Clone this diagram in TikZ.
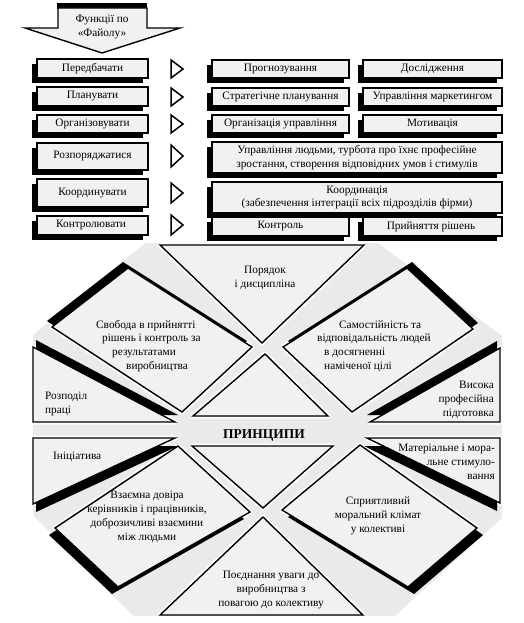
\documentclass[tikz,border=0pt]{standalone}
\usepackage{fontspec}
\setmainfont{Liberation Serif}
\definecolor{panelgray}{RGB}{241,241,241}
\definecolor{octgray}{RGB}{234,234,234}
\usepackage{tikz}

\begin{document}
\begin{tikzpicture}[x=1pt,y=-1pt,
  txt/.style={font=\fontsize{11.3}{13.8}\selectfont, inner sep=0pt, align=center},
  panel/.style={fill=panelgray, draw=black, line width=1.4pt},
  playtri/.style={fill=white, draw=black, line width=1.5pt, line join=miter},
  piece/.style={fill=panelgray, draw=black, line width=1.4pt, line join=miter},
  halo/.style={draw=white, line width=5pt, line join=round}]

\useasboundingbox (0,0) rectangle (524,623);

% --- Arrow: functions ---
\fill[black] (57,3) rectangle (147,9);
\draw[panel] (58,8) -- (147,8) -- (147,28) -- (180,28) -- (102,53) -- (25,28) -- (58,28) -- cycle;
\node[txt] (title) at (102,27) {Функції по\\«Файолу»};

% --- Functions, left column ---
\foreach \n/\yt/\yb/\lbl in {
  1/59/78/Передбачати,
  2/87/106/Планувати,
  3/115/133/Організовувати,
  4/143/170/Розпоряджатися,
  5/179/207/Координувати,
  6/216/235/Контролювати
}{
  \fill[black] (32,\yt+5) rectangle (143,\yb+5);
  \draw[panel] (37,\yt) rectangle (148,\yb);
  \node[txt] (fn\n) at (92.5,{(\yt+\yb)/2}) {\lbl};
}

% --- Play marks ---
\foreach \y/\h in {69/9, 97/9, 124/9, 156/11, 193/10, 225/10}
  \draw[playtri] (171,\y-\h) -- (183,\y) -- (171,\y+\h) -- cycle;

% --- Tasks, right columns ---
\foreach \n/\xl/\xr/\yt/\yb/\lbl in {
  a1/212/349/60/78/Прогнозування,
  b1/363/502/60/78/Дослідження,
  a2/212/349/88/106/Стратегічне планування,
  b2/363/502/88/106/Управління маркетингом,
  a3/212/349/115/133/Організація управління,
  b3/363/502/115/133/Мотивація,
  c4/212/502/142/173/{Управління людьми, турбота про їхнє професійне\\зростання, створення відповідних умов і стимулів},
  c5/212/502/182/213/{Координація\\(забезпечення інтеграції всіх підрозділів фірми)},
  a6/212/349/217/236/Контроль,
  b6/363/502/217/236/Прийняття рішень
}{
  \fill[black] (\xl-5,\yt+5) rectangle (\xr-5,\yb+5);
  \draw[panel] (\xl,\yt) rectangle (\xr,\yb);
  \node[txt] (task\n) at ({(\xl+\xr)/2},{(\yt+\yb)/2}) {\lbl};
}

% --- Principles: background ---
\fill[octgray] (145,243) -- (378,243) -- (502,336) -- (502,518) -- (395,616) -- (133,616) -- (33,515) -- (33,335) -- cycle;

% pieces: white gap first, then shadow and outline
\foreach \p in {
  {(160,245) -- (364,245) -- (262,343)},
  {(128,268) -- (52,327) -- (182,412) -- (252,347)},
  {(407,268) -- (473,329) -- (352,412) -- (283,347)},
  {(265,354) -- (328,416) -- (193,416)},
  {(33,347) -- (175,422) -- (33,422)},
  {(500,348) -- (500,422) -- (370,422)},
  {(33,438) -- (175,438) -- (33,504)},
  {(367,438) -- (500,438) -- (500,503)},
  {(192,446) -- (333,446) -- (263,508)},
  {(178,446) -- (250,512) -- (118,587) -- (55,528)},
  {(360,445) -- (477,528) -- (408,587) -- (282,510)},
  {(263,517) -- (363,615) -- (160,615)}
}{
  \draw[halo] \p -- cycle;
}
\foreach \sx/\sy/\p in {
  0/0/{(160,245) -- (364,245) -- (262,343)},
  -5/-6/{(128,268) -- (52,327) -- (182,412) -- (252,347)},
  5/-6/{(407,268) -- (473,329) -- (352,412) -- (283,347)},
  0/0/{(265,354) -- (328,416) -- (193,416)},
  3/-7/{(33,347) -- (175,422) -- (33,422)},
  -3/-7/{(500,348) -- (500,422) -- (370,422)},
  3/8/{(33,438) -- (175,438) -- (33,504)},
  -3/8/{(367,438) -- (500,438) -- (500,503)},
  0/0/{(192,446) -- (333,446) -- (263,508)},
  -6/7/{(178,446) -- (250,512) -- (118,587) -- (55,528)},
  6/7/{(360,445) -- (477,528) -- (408,587) -- (282,510)},
  0/0/{(263,517) -- (363,615) -- (160,615)}
}{
  \fill[black, shift={(\sx,\sy)}] \p -- cycle;
  \draw[piece] \p -- cycle;
}

% Labels
\node[txt] (order) at (265,278) {Порядок\\і дисципліна};
\node[txt, anchor=west, align=left] (freedom) at (96,346)
  {Свобода в прийнятті\\\hspace*{6pt}рішень і контроль за\\\hspace*{16pt}результатами\\\hspace*{30pt}виробництва};
\node[txt, anchor=west, align=left] (selfdep) at (317,346)
  {\hspace*{22pt}Самостійність та\\відповідальність людей\\\hspace*{7pt}в досягненні\\\hspace*{7pt}наміченої цілі};
\node[txt, anchor=west, align=left] (division) at (45,404) {Розподіл\\праці};
\node[txt, anchor=east, align=right] (skill) at (494,400) {Висока\\професійна\\підготовка};
\node[font=\fontsize{13.5}{15}\selectfont\bfseries, inner sep=0pt] (princ) at (264,436) {ПРИНЦИПИ};
\node[txt, anchor=west, align=left] (initiative) at (53,457) {Ініціатива};
\node[txt, anchor=east, align=right] (reward) at (495,462) {Матеріальне і мора-\\льне стимуло-\\вання};
\node[txt] (trust) at (147,517) {Взаємна довіра\\керівників і працівників,\\доброзичливі взаємини\\між людьми};
\node[txt] (climate) at (378,516) {Сприятливий\\моральний клімат\\у колективі};
\node[txt] (balance) at (271,590) {Поєднання уваги до\\виробництва з\\повагою до колективу};

\end{tikzpicture}
\end{document}
